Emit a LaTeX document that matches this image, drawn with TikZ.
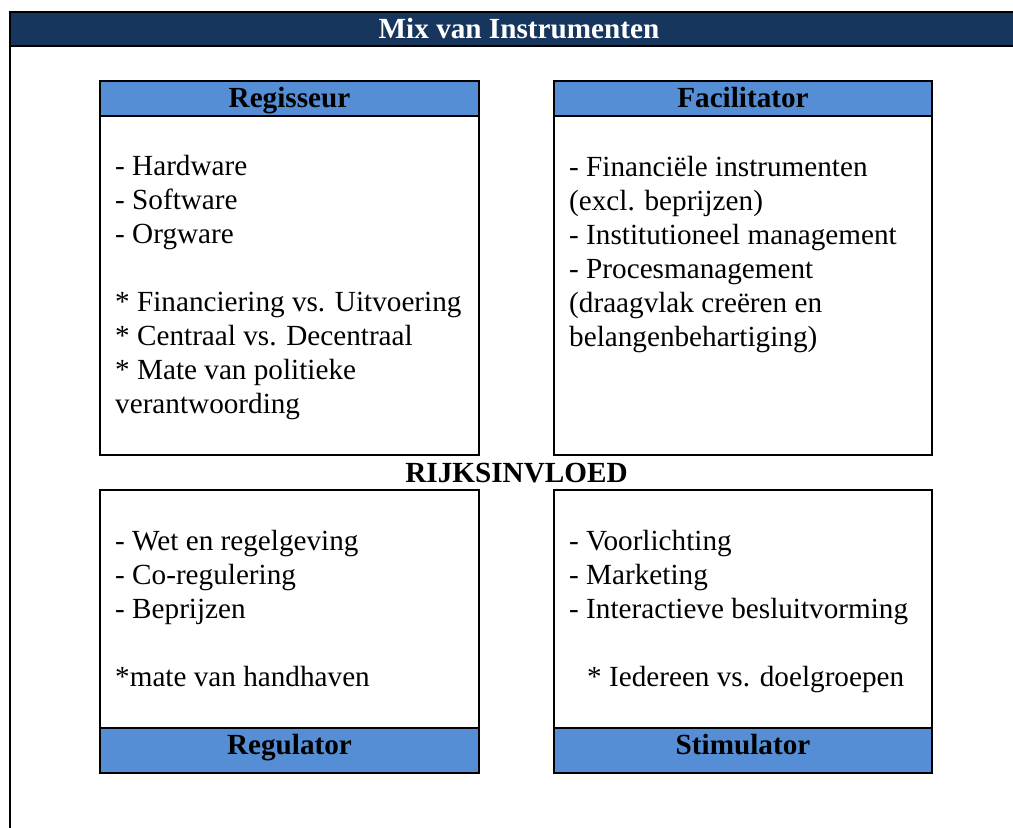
\documentclass[tikz,border=0pt]{standalone}
\usepackage{fontspec}
\setmainfont{Liberation Serif}
\definecolor{kopblauw}{RGB}{23,54,93}
\definecolor{vakblauw}{RGB}{85,142,213}
\tikzset{
  vak/.style={draw, line width=2pt},
  band/.style={vak, fill=vakblauw},
  tekst/.style={font=\fontsize{29.2}{34}\selectfont, inner sep=0pt},
  kop/.style={tekst, font=\fontsize{29.2}{34}\selectfont\bfseries, anchor=base},
  lijst/.style={tekst, anchor=base west, align=left}
}
\begin{document}
\begin{tikzpicture}[x=1pt,y=-1pt]
    \useasboundingbox (0,0) rectangle (1013,828);
    % kader met titelbalk
    \filldraw[fill=kopblauw, line width=2pt] (10,12) rectangle (1030,46);
    \draw[line width=2pt] (10,46) -- (10,832);
    \node[kop, white] (titel) at (519,38) {Mix van Instrumenten};

    % vier vakken
    \draw[vak] (100,81) rectangle (479,455);
    \draw[vak] (554,81) rectangle (932,455);
    \draw[vak] (100,490) rectangle (479,773);
    \draw[vak] (554,490) rectangle (932,773);
    \filldraw[band] (100,81) rectangle (479,116);
    \filldraw[band] (554,81) rectangle (932,116);
    \filldraw[band] (100,728) rectangle (479,773);
    \filldraw[band] (554,728) rectangle (932,773);

    \node[kop] (regisseur) at (289.5,107) {Regisseur};
    \node[kop] (facilitator) at (743,107) {Facilitator};
    \node[kop] (regulator) at (289.5,754) {Regulator};
    \node[kop] (stimulator) at (743,754) {Stimulator};
    \node[kop] (rijksinvloed) at (516.5,482) {RIJKSINVLOED};

    % inhoud, geplaatst op de basislijn van de laatste regel
    \node[lijst] (hardware) at (115,413) {- Hardware\\- Software\\- Orgware\\[34pt]
        * Financiering vs. Uitvoering\\* Centraal vs. Decentraal\\
        * Mate van politieke\\verantwoording};
    \node[lijst] (financieel) at (569,346) {- Financiële instrumenten\\(excl. beprijzen)\\
        - Institutioneel management\\- Procesmanagement\\(draagvlak creëren en\\
        belangenbehartiging)};
    \node[lijst] (wetgeving) at (115,686) {- Wet en regelgeving\\- Co-regulering\\
        - Beprijzen\\[34pt]*mate van handhaven};
    \node[lijst] (voorlichting) at (569,686) {- Voorlichting\\- Marketing\\
        - Interactieve besluitvorming\\[34pt]\hspace*{18pt}* Iedereen vs. doelgroepen};
\end{tikzpicture}
\end{document}
